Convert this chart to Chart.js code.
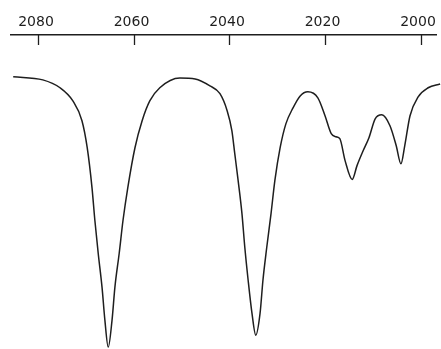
<!DOCTYPE html>
<html>
<head>
<meta charset="utf-8">
<script src="https://cdn.jsdelivr.net/npm/chart.js@4/dist/chart.umd.min.js"></script>
<style>
  html, body { margin: 0; padding: 0; background: #ffffff; }
  #wrap { width: 441px; height: 349px; }
</style>
</head>
<body>
<div id="wrap"><canvas id="c" width="441" height="349"></canvas></div>
<script>
// Wavenumbers (cm^-1)
const wavenumbers = [
  2085.4, 2079.2, 2075.6, 2072.9, 2071.0, 2069.9, 2068.9, 2068.3, 2067.6, 2066.8,
  2066.2, 2065.5, 2064.7, 2064.1, 2063.2, 2062.4, 2061.4, 2059.9, 2058.4, 2056.8,
  2054.7, 2050.5, 2047.3, 2044.2, 2042.1, 2040.6, 2039.6, 2039.0, 2038.3, 2037.5,
  2036.9, 2036.2, 2035.4, 2034.6, 2033.7, 2033.1, 2032.3, 2031.4, 2030.6, 2029.5,
  2028.3, 2026.8, 2025.3, 2023.7, 2021.6, 2020.1, 2018.8, 2017.8, 2017.0, 2015.9,
  2014.4, 2013.4, 2012.1, 2010.9, 2009.6, 2008.2, 2006.5, 2005.2, 2004.2, 2003.4,
  2002.3, 2000.6, 1998.5, 1996.0
];
// Relative transmittance (arbitrary units, 0–100)
const transmittance = [
  86.7, 85.7, 83.2, 79.0, 72.7, 64.1, 51.4, 41.0, 30.5, 19.7,
  9.2, 0.6, 9.2, 19.7, 30.5, 41.0, 51.4, 64.1, 72.7, 79.0,
  83.2, 86.3, 86.0, 83.8, 81.3, 75.9, 69.5, 62.2, 53.7, 43.2,
  32.4, 21.9, 11.4, 4.4, 11.4, 21.9, 32.4, 43.2, 53.7, 64.1,
  71.7, 76.8, 80.6, 81.9, 80.0, 74.3, 68.6, 67.6, 67.0, 60.0,
  54.0, 58.4, 63.2, 67.3, 73.3, 74.6, 71.1, 64.8, 59.0, 64.8,
  74.3, 80.3, 83.2, 84.4
];
// Axis tick labels
const tickValues = [2080, 2060, 2040, 2020, 2000];
const axisMin = 1996.86;
const axisMax = 2085.86;

const points = wavenumbers.map((w, i) => ({ x: w, y: transmittance[i] }));

new Chart(document.getElementById('c'), {
  type: 'line',
  data: {
    datasets: [{
      data: points,
      borderColor: '#1e1e1e',
      borderWidth: 1.5,
      pointRadius: 0,
      cubicInterpolationMode: 'monotone',
      fill: false,
      clip: false
    }]
  },
  options: {
    responsive: false,
    animation: false,
    devicePixelRatio: 1,
    layout: { padding: { left: 11, right: 5, top: 0, bottom: 0 } },
    plugins: { legend: { display: false }, tooltip: { enabled: false } },
    scales: {
      x: {
        type: 'linear',
        position: 'top',
        reverse: true,
        min: axisMin,
        max: axisMax,
        afterBuildTicks: (scale) => { scale.ticks = tickValues.map(v => ({ value: v })); },
        afterFit: (scale) => {
          scale.height = 35;
          scale.paddingLeft = 0;
          scale.paddingRight = 0;
        },
        border: { display: true, color: '#1e1e1e', width: 1.5 },
        grid: {
          display: true,
          drawOnChartArea: false,
          drawTicks: true,
          tickLength: -10,
          tickColor: '#1e1e1e',
          tickWidth: 1.3
        },
        ticks: {
          padding: 14,
          labelOffset: -3,
          maxRotation: 0,
          autoSkip: false,
          color: '#1e1e1e',
          font: { family: 'DejaVu Sans', size: 14 },
          callback: (v) => String(v)
        }
      },
      y: {
        display: false,
        min: 0,
        max: 100
      }
    }
  }
});
</script>
</body>
</html>
